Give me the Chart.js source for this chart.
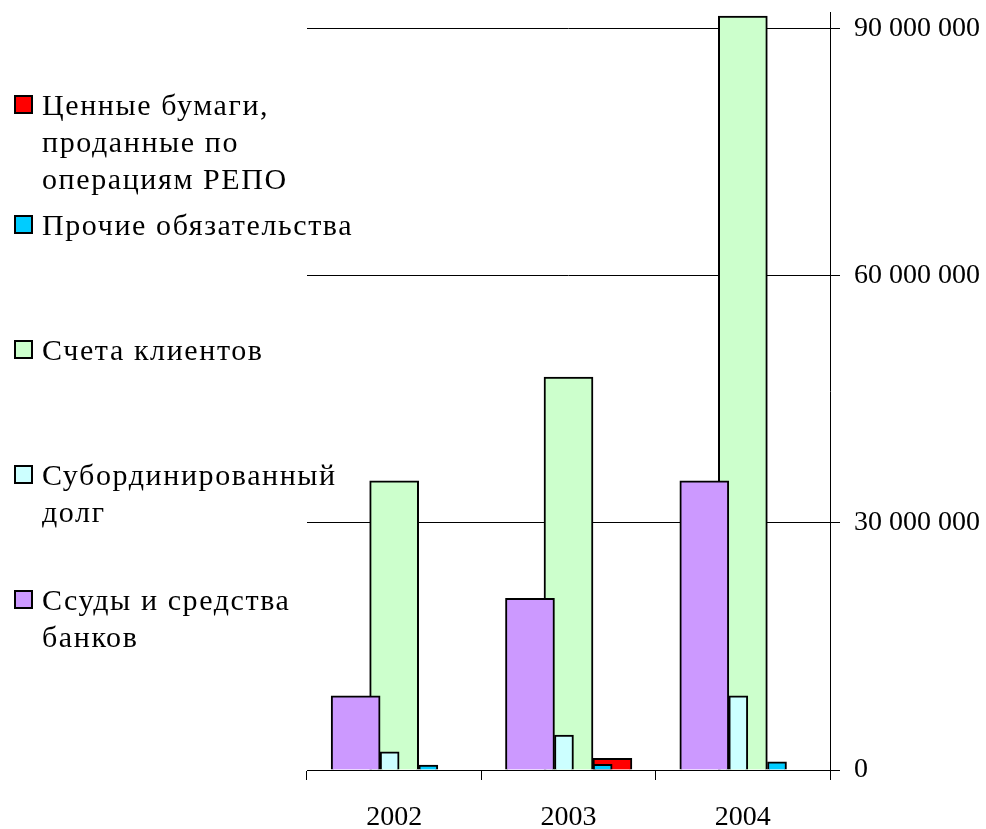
<!DOCTYPE html>
<html>
<head>
<meta charset="utf-8">
<script src="https://cdn.jsdelivr.net/npm/chart.js@4.4.1/dist/chart.umd.min.js"></script>
<style>
    html, body { margin: 0; padding: 0; background: #fff; }
    #wrap { position: relative; width: 986px; height: 829px; }
    #legend { position: absolute; left: 0; top: 0; width: 300px; height: 829px;
              font-family: "Liberation Serif", serif; font-size: 30px; color: #000; }
    .item { position: absolute; left: 14px; }
    .box { position: absolute; left: 0; top: 9px; width: 15px; height: 15px; border: 2px solid #000; }
    .text { position: absolute; left: 28px; top: 0; line-height: 37px; white-space: nowrap; letter-spacing: 1.6px; }
</style>
</head>
<body>
<div id="wrap">
    <canvas id="chart"></canvas>
    <div id="legend"></div>
</div>
<script>
// Years on the x axis
const categories = ['2002', '2003', '2004'];

// Values per series
const repoSecurities = [null, 1420000, null];
const otherLiabilities = [600000, 700000, 1000000];
const clientAccounts = [35100000, 47700000, 91500000];
const subordinatedDebt = [2200000, 4250000, 9000000];
const bankLoans = [9000000, 20850000, 35100000];

// Right axis
const yTicks = [0, 30000000, 60000000, 90000000];
const yMax = 92000000;

// Legend labels, already split into lines like in the original
const seriesNames = [
    ['Ценные бумаги,', 'проданные по', 'операциям РЕПО'],
    ['Прочие обязательства'],
    ['Счета клиентов'],
    ['Субординированный', 'долг'],
    ['Ссуды и средства', 'банков']
];

// Legend rows (first line centre, px from top)
const legendRowY = [104, 224, 349, 474, 599];

const FONT = 'Liberation Serif';

// shift = offset of the bar centre inside its category (in categories),
// order = draw order (lower is on top)
const seriesStyle = [
    { color: '#FF0000', shift: 0.252, width: 39, order: 3 },
    { color: '#00CCFF', shift: 0.196, width: 19, order: 2 },
    { color: '#CCFFCC', shift: 0.0, width: 49, order: 4 },
    { color: '#CCFFFF', shift: -0.026, width: 19, order: 1 },
    { color: '#CC99FF', shift: -0.221, width: 49, order: 0 }
];

const seriesValues = [repoSecurities, otherLiabilities, clientAccounts, subordinatedDebt, bankLoans];

function formatNumber(v) {
    return String(v).replace(/\B(?=(\d{3})+(?!\d))/g, ' ');
}

const datasets = [];
const scales = {};

seriesValues.forEach((values, i) => {
    const st = seriesStyle[i];
    const axisId = 'x' + i;
    datasets.push({
        label: seriesNames[i].join(' '),
        lines: seriesNames[i],
        data: values.map((v, idx) => ({ x: idx, y: v })),
        xAxisID: axisId,
        backgroundColor: st.color,
        borderColor: '#000',
        borderWidth: 2,
        barThickness: st.width,
        grouped: false,
        order: st.order
    });
    // each series gets its own hidden axis, moved by its shift
    scales[axisId] = {
        type: 'linear',
        display: false,
        offset: false,
        min: -0.5 - st.shift,
        max: categories.length - 0.5 - st.shift
    };
});

scales.x = {
    type: 'category',
    labels: categories,
    offset: true,
    grid: { offset: true, drawOnChartArea: false, drawTicks: true, tickLength: 10, color: '#000', lineWidth: 1 },
    border: { display: true, color: '#000', width: 1 },
    ticks: { color: '#000', padding: 21, maxRotation: 0, font: { family: FONT, size: 28 } },
    afterFit: (axis) => {
        axis.height = 59;
        axis.paddingLeft = 0;
        axis.paddingRight = 0;
    }
};

scales.y = {
    position: 'right',
    min: 0,
    max: yMax,
    afterBuildTicks: (axis) => {
        axis.ticks = yTicks.map(v => ({ value: v }));
    },
    afterFit: (axis) => {
        axis.width = 156;
        axis.paddingTop = 0;
        axis.paddingBottom = 0;
    },
    grid: { color: '#000', lineWidth: 1, tickLength: 10, drawTicks: true },
    border: { display: true, color: '#000', width: 1 },
    ticks: {
        color: '#000',
        padding: 14,
        font: { family: FONT, size: 28 },
        callback: (v) => formatNumber(v)
    }
};

const chart = new Chart(document.getElementById('chart'), {
    type: 'bar',
    data: { labels: categories, datasets: datasets },
    options: {
        responsive: true,
        maintainAspectRatio: false,
        animation: false,
        devicePixelRatio: 1,
        layout: { padding: { left: 307, top: 12, right: 0, bottom: 0 } },
        plugins: {
            legend: { display: false },
            tooltip: { enabled: false }
        },
        scales: scales
    }
});

// HTML legend on the left, built from the datasets
const legendEl = document.getElementById('legend');
chart.data.datasets.forEach((ds, i) => {
    const item = document.createElement('div');
    item.className = 'item';
    item.style.top = (legendRowY[i] - 18.5) + 'px';

    const box = document.createElement('div');
    box.className = 'box';
    box.style.background = ds.backgroundColor;
    item.appendChild(box);

    const text = document.createElement('div');
    text.className = 'text';
    text.innerHTML = ds.lines.join('<br>');
    item.appendChild(text);

    legendEl.appendChild(item);
});
</script>
</body>
</html>
